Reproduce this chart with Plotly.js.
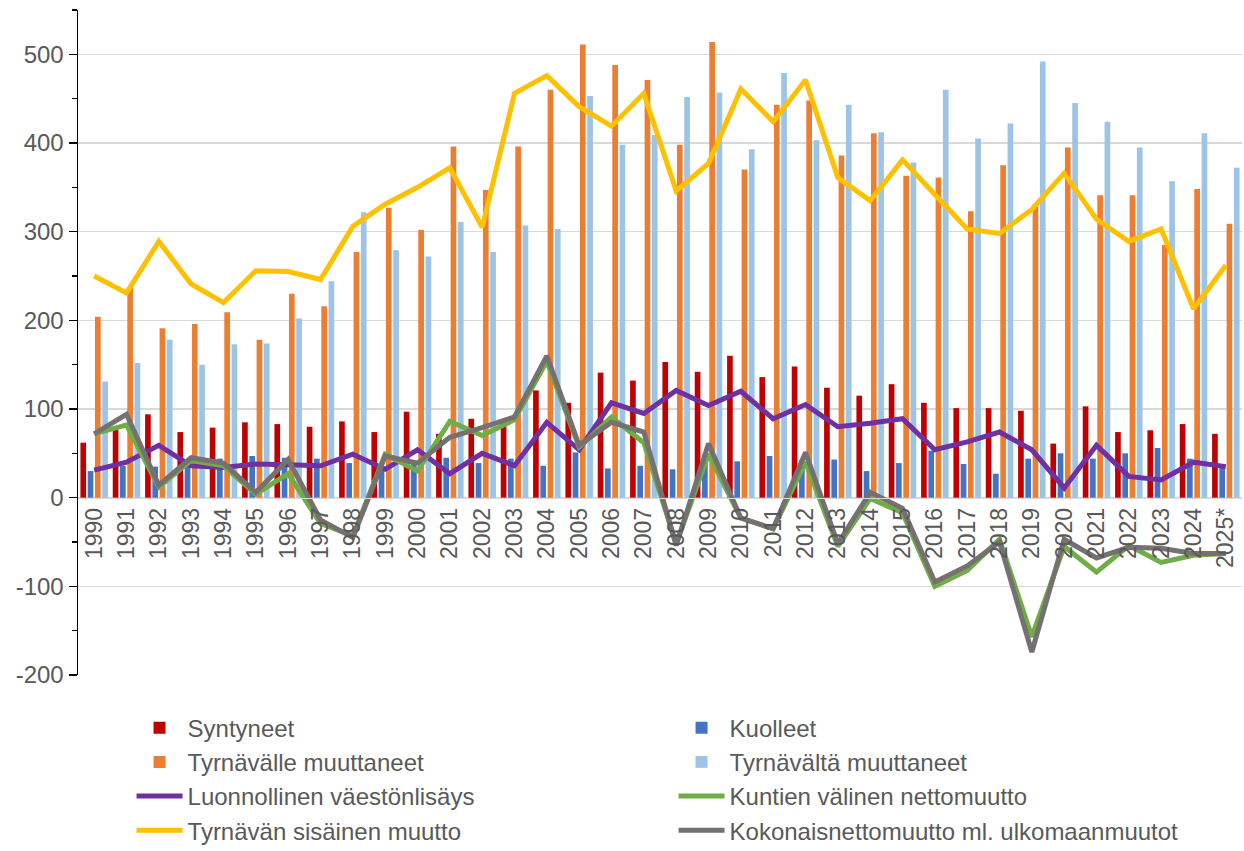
<!DOCTYPE html>
<html>
<head>
<meta charset="utf-8">
<script src="https://cdn.plot.ly/plotly-3.0.1.min.js"></script>
<style>html,body{margin:0;padding:0;background:#fff;}#chart{width:1244px;height:851px;}</style>
</head>
<body>
<div id="chart"></div>
<script>
const years = ["1990","1991","1992","1993","1994","1995","1996","1997","1998","1999","2000","2001","2002","2003","2004","2005","2006","2007","2008","2009","2010","2011","2012","2013","2014","2015","2016","2017","2018","2019","2020","2021","2022","2023","2024","2025*"];

const syntyneet = [62,77,94,74,79,85,83,80,86,74,97,72,89,84,121,107,141,132,153,142,160,136,148,124,115,128,107,101,101,98,61,103,74,76,83,72];
const kuolleet = [30,36,35,40,44,47,45,44,39,32,42,45,39,44,36,51,33,36,32,40,41,47,42,43,30,39,53,38,27,44,50,44,50,56,44,36];
const tyrnavalle = [204,237,191,196,209,178,230,216,277,327,302,396,347,396,460,511,488,471,398,514,370,443,448,386,411,363,361,323,375,331,395,341,341,285,348,309];
const tyrnavalta = [131,152,178,150,173,174,202,244,322,279,272,311,277,307,303,453,398,409,452,457,393,479,403,443,412,378,460,405,422,492,445,424,395,357,411,372];
const luonnollinen = [31,40,59,36,34,38,37,36,49,32,54,27,50,36,85,54,107,95,121,104,120,89,105,80,84,89,54,63,74,54,11,59,24,20,40,35];
const kuntien = [72,82,12,42,36,4,27,-29,-43,49,30,86,70,88,154,57,91,62,-52,49,-23,-35,40,-55,-1,-17,-100,-82,-47,-157,-55,-84,-54,-73,-65,-63];
const sisainen = [250,231,289,241,220,256,255,246,306,331,350,372,305,456,476,441,419,456,346,377,461,424,471,361,335,381,342,303,298,325,366,314,289,303,213,262];
const kokonais = [72,94,14,45,39,6,43,-25,-45,47,39,68,79,91,160,59,85,74,-54,61,-23,-35,51,-52,6,-12,-95,-77,-50,-174,-47,-68,-56,-57,-63,-63];

const yTickVals = [-200,-100,0,100,200,300,400,500];
const yTickText = ["-200","-100","0","100","200","300","400","500"];

const names = ["Syntyneet","Kuolleet","Tyrnävälle muuttaneet","Tyrnävältä muuttaneet","Luonnollinen väestönlisäys","Kuntien välinen nettomuutto","Tyrnävän sisäinen muutto","Kokonaisnettomuutto ml. ulkomaanmuutot"];
const colors = ["#C00000","#4472C4","#ED7D31","#9DC3E6","#7030A0","#70AD47","#FFC000","#767171"];

const barData = [syntyneet, kuolleet, tyrnavalle, tyrnavalta];
const lineData = [luonnollinen, kuntien, sisainen, kokonais];

const traces = [];
barData.forEach((d,i)=>{
  traces.push({type:'bar', x:years, y:d, name:names[i], marker:{color:colors[i]}});
});
lineData.forEach((d,i)=>{
  traces.push({type:'scatter', mode:'lines', x:years, y:d, name:names[i+4], line:{color:colors[i+4], width:5, shape:'linear'}});
});

const txt = "#595959";
const layout = {
  width:1244, height:851,
  margin:{l:78, r:2, t:10, b:176, autoexpand:false},
  paper_bgcolor:'#fff', plot_bgcolor:'#fff',
  font:{family:'"Liberation Sans", Arial, sans-serif', size:23, color:txt},
  barmode:'group', bargap:0.1, bargroupgap:0.22,
  showlegend:true,
  legend:{orientation:'h', x:0.046, xanchor:'left', y:-0.046, yanchor:'top',
          entrywidth:481, entrywidthmode:'pixels', traceorder:'normal',
          font:{size:24, color:txt}, itemwidth:46, bgcolor:'rgba(0,0,0,0)'},
  xaxis:{type:'category', anchor:'free', position:200/750, showline:true, linecolor:'#d9d9d9', linewidth:1,
         ticks:'', tickangle:-90, tickfont:{size:23, color:txt}, showgrid:false, zeroline:false,
         range:[-0.5, 35.5]},
  yaxis:{range:[-200,550], tickvals:yTickVals, ticktext:yTickText, showgrid:true, gridcolor:'#d9d9d9', gridwidth:1.3,
         zeroline:true, zerolinecolor:'#d9d9d9', zerolinewidth:1.3,
         showline:true, linecolor:'#000', linewidth:1.5, ticks:'outside', ticklen:8, tickcolor:'#000', tickwidth:1.5,
         minor:{dtick:50, tick0:0, ticks:'outside', ticklen:5, tickcolor:'#000', tickwidth:1.5, showgrid:false},
         tickfont:{size:24, color:txt}}
};

Plotly.newPlot('chart', traces, layout, {staticPlot:true, displayModeBar:false});
</script>
</body>
</html>
